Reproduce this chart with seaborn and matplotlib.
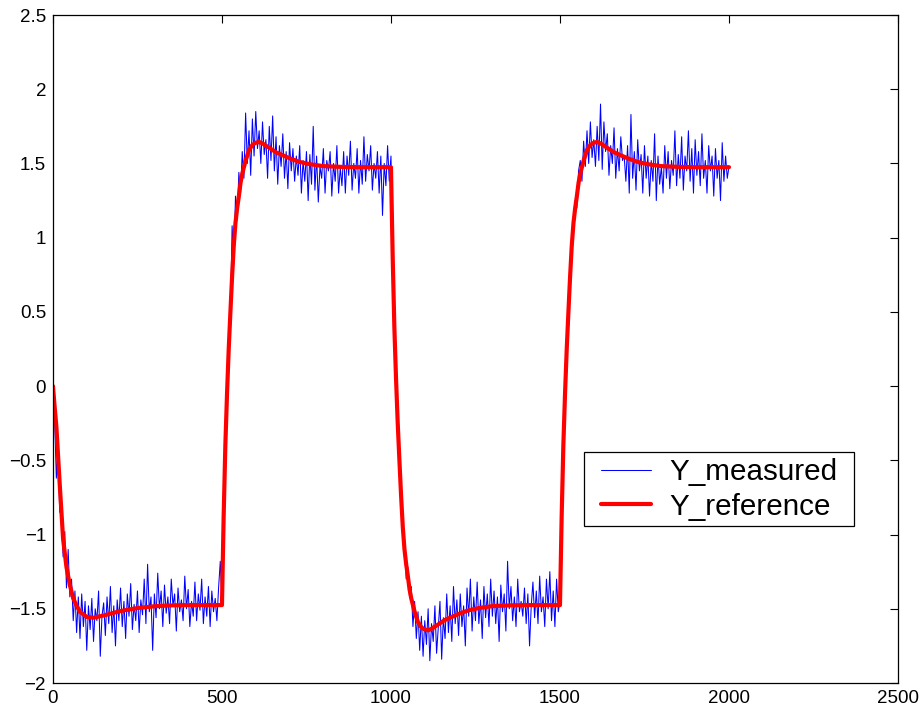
import numpy as np
import pandas as pd
import seaborn as sns
import matplotlib.pyplot as plt
from matplotlib.ticker import FuncFormatter
from matplotlib.path import Path

# --- data ---

# measured signal, one value every 5 samples (0..2000)
meas_0_500 = [
    0.10, -0.22, -0.62, -0.40, -0.85, -0.82, -1.15, -0.98, -1.36, -1.10,
    -1.42, -1.30, -1.58, -1.38, -1.66, -1.42, -1.70, -1.40, -1.62, -1.45,
    -1.78, -1.48, -1.64, -1.43, -1.72, -1.50, -1.58, -1.38, -1.82, -1.55,
    -1.46, -1.68, -1.42, -1.60, -1.35, -1.66, -1.48, -1.75, -1.44, -1.58,
    -1.36, -1.62, -1.45, -1.70, -1.40, -1.55, -1.33, -1.64, -1.47, -1.58,
    -1.38, -1.66, -1.44, -1.54, -1.30, -1.60, -1.20, -1.52, -1.42, -1.78,
    -1.40, -1.56, -1.26, -1.50, -1.38, -1.62, -1.34, -1.53, -1.42, -1.60,
    -1.30, -1.48, -1.40, -1.65, -1.36, -1.52, -1.44, -1.58, -1.28, -1.50,
    -1.37, -1.62, -1.45, -1.55, -1.32, -1.58, -1.40, -1.51, -1.30, -1.60,
    -1.42, -1.55, -1.35, -1.62, -1.38, -1.52, -1.43, -1.58, -1.36, -1.18,
    -1.45,
]
meas_505_1000 = [
    -0.95, -0.30, -0.10, 0.35, 0.42, 1.08, 0.82, 1.28, 1.12, 1.44,
    1.30, 1.58, 1.40, 1.84, 1.50, 1.72, 1.42, 1.80, 1.55, 1.85,
    1.60, 1.72, 1.50, 1.78, 1.56, 1.66, 1.40, 1.75, 1.52, 1.82,
    1.45, 1.68, 1.36, 1.62, 1.48, 1.70, 1.40, 1.58, 1.33, 1.64,
    1.45, 1.60, 1.38, 1.55, 1.42, 1.62, 1.30, 1.52, 1.38, 1.58,
    1.25, 1.56, 1.36, 1.75, 1.32, 1.55, 1.24, 1.48, 1.40, 1.60,
    1.30, 1.52, 1.45, 1.58, 1.28, 1.50, 1.38, 1.62, 1.30, 1.47,
    1.35, 1.58, 1.30, 1.55, 1.42, 1.65, 1.32, 1.50, 1.40, 1.60,
    1.30, 1.52, 1.36, 1.68, 1.38, 1.56, 1.45, 1.62, 1.32, 1.50,
    1.40, 1.58, 1.30, 1.55, 1.15, 1.50, 1.35, 1.62, 1.38, 1.55,
]
meas_1005_1500 = [
    0.95, 0.50, 0.10, -0.30, -0.45, -0.85, -0.90, -1.05, -1.30, -1.22,
    -1.42, -1.35, -1.62, -1.45, -1.70, -1.52, -1.78, -1.55, -1.82, -1.58,
    -1.74, -1.50, -1.85, -1.60, -1.72, -1.48, -1.80, -1.62, -1.45, -1.84,
    -1.56, -1.70, -1.40, -1.66, -1.48, -1.72, -1.35, -1.60, -1.44, -1.68,
    -1.40, -1.62, -1.48, -1.75, -1.36, -1.55, -1.30, -1.65, -1.42, -1.58,
    -1.32, -1.60, -1.44, -1.70, -1.35, -1.56, -1.40, -1.62, -1.30, -1.55,
    -1.38, -1.60, -1.42, -1.72, -1.34, -1.52, -1.40, -1.65, -1.18, -1.50,
    -1.35, -1.58, -1.42, -1.62, -1.30, -1.52, -1.45, -1.55, -1.36, -1.60,
    -1.40, -1.75, -1.48, -1.32, -1.56, -1.38, -1.60, -1.28, -1.52, -1.42,
    -1.62, -1.30, -1.50, -1.25, -1.58, -1.38, -1.62, -1.30, -1.52, -1.45,
]
meas_1505_2000 = [
    -0.90, -0.35, 0.00, 0.30, 0.55, 0.78, 1.00, 1.08, 1.25, 1.20,
    1.45, 1.52, 1.38, 1.65, 1.48, 1.72, 1.50, 1.78, 1.54, 1.66,
    1.48, 1.75, 1.52, 1.90, 1.46, 1.78, 1.58, 1.70, 1.42, 1.62,
    1.50, 1.74, 1.40, 1.60, 1.45, 1.68, 1.52, 1.55, 1.38, 1.62,
    1.30, 1.83, 1.40, 1.58, 1.32, 1.66, 1.45, 1.56, 1.30, 1.62,
    1.40, 1.55, 1.28, 1.52, 1.38, 1.70, 1.25, 1.55, 1.36, 1.48,
    1.30, 1.62, 1.40, 1.58, 1.33, 1.52, 1.42, 1.72, 1.35, 1.56,
    1.40, 1.68, 1.32, 1.55, 1.45, 1.72, 1.38, 1.60, 1.30, 1.66,
    1.42, 1.58, 1.35, 1.70, 1.40, 1.52, 1.30, 1.62, 1.45, 1.55,
    1.28, 1.60, 1.40, 1.52, 1.25, 1.64, 1.38, 1.55, 1.40, 1.48,
]

# reference signal (smooth), sample -> value
t_ref = [0, 5, 10, 20, 30, 40, 50, 60, 70, 80, 100, 120, 150, 200, 250, 300, 350, 400, 450, 500,
         505, 510, 515, 520, 525, 530, 535, 540, 545, 550, 555, 560, 570, 580, 590, 600, 610, 620,
         640, 660, 680, 700, 730, 760, 800, 850, 900, 1000,
         1005, 1010, 1015, 1020, 1025, 1030, 1035, 1040, 1045, 1050, 1055, 1060, 1070, 1080, 1090,
         1100, 1110, 1120, 1140, 1160, 1180, 1200, 1230, 1260, 1300, 1350, 1400, 1500,
         1505, 1510, 1515, 1520, 1525, 1530, 1535, 1540, 1545, 1550, 1555, 1560, 1570, 1580, 1590,
         1600, 1610, 1620, 1640, 1660, 1680, 1700, 1730, 1760, 1800, 1850, 1900, 2000]
y_ref = [0.0, -0.14, -0.27, -0.66, -1.03, -1.22, -1.34, -1.43, -1.48, -1.52, -1.555, -1.56, -1.545,
         -1.515, -1.495, -1.483, -1.477, -1.475, -1.475, -1.475,
         -0.88, -0.40, -0.05, 0.25, 0.50, 0.74, 0.95, 1.10, 1.20, 1.28, 1.37, 1.43, 1.52, 1.59, 1.625,
         1.64, 1.645, 1.635, 1.605, 1.575, 1.555, 1.535, 1.51, 1.495, 1.482, 1.477, 1.475, 1.475,
         0.88, 0.40, 0.05, -0.25, -0.50, -0.74, -0.95, -1.10, -1.20, -1.28, -1.37, -1.43, -1.52, -1.59,
         -1.625, -1.64, -1.645, -1.635, -1.605, -1.575, -1.555, -1.535, -1.51, -1.495, -1.482, -1.477,
         -1.475, -1.475,
         -0.88, -0.40, -0.05, 0.25, 0.50, 0.74, 0.95, 1.10, 1.20, 1.28, 1.37, 1.43, 1.52, 1.59, 1.625,
         1.64, 1.645, 1.635, 1.605, 1.575, 1.555, 1.535, 1.51, 1.495, 1.482, 1.477, 1.475, 1.475]

x_ticks = [0, 500, 1000, 1500, 2000, 2500]
y_ticks = [-2, -1.5, -1, -0.5, 0, 0.5, 1, 1.5, 2, 2.5]

y_meas = meas_0_500 + meas_505_1000 + meas_1005_1500 + meas_1505_2000
assert len(y_meas) == 401, len(y_meas)
assert len(t_ref) == len(y_ref), (len(t_ref), len(y_ref))
t_meas = np.arange(len(y_meas)) * 5

df_meas = pd.DataFrame({'sample': t_meas, 'y': y_meas})
df_ref = pd.DataFrame({'sample': t_ref, 'y': y_ref})

# --- plot ---
sns.set_style('white')
plt.rcParams['font.family'] = ['Liberation Sans', 'DejaVu Sans']
plt.rcParams['text.color'] = 'black'

fig = plt.figure(figsize=(9.21, 7.08), dpi=100)
ax = fig.add_axes([0.0575, 0.0353, 0.9175, 0.9435])

sns.lineplot(data=df_meas, x='sample', y='y', color='blue', lw=0.75,
             label='Y_measured', ax=ax, sort=False)
sns.lineplot(data=df_ref, x='sample', y='y', color='red', lw=3.0,
             label='Y_reference', ax=ax, sort=False)

ax.set_xlim(0, 2500)
ax.set_ylim(-2, 2.5)
ax.set_xticks(x_ticks)
ax.set_yticks(y_ticks)
ax.yaxis.set_major_formatter(FuncFormatter(lambda v, p: ('%g' % v).replace('-', '\u2212')))
ax.set_xlabel('')
ax.set_ylabel('')
ax.tick_params(direction='in', top=True, right=True, length=6, width=0.8,
               labelsize=13.5, colors='black', pad=5)
for s in ax.spines.values():
    s.set_color('black')
    s.set_linewidth(0.9)

leg = ax.legend(loc='upper left', bbox_to_anchor=(0.642, 0.3454), borderaxespad=0,
                fontsize=21.3, frameon=True, fancybox=False, edgecolor='black',
                framealpha=1, borderpad=0.19, labelspacing=0.23, handlelength=1.7,
                handletextpad=0.6, labelcolor='black')


# legend frame with more side padding than top/bottom (matlab style box)
def wide_box(x0, y0, width, height, mutation_size):
    px = 0.38 * mutation_size
    return Path([(x0 - px, y0), (x0 + width + px, y0), (x0 + width + px, y0 + height),
                 (x0 - px, y0 + height), (x0 - px, y0)], closed=True)


leg.get_frame().set_boxstyle(wide_box)
leg.get_frame().set_linewidth(0.9)

plt.savefig('out.png', dpi=100)
